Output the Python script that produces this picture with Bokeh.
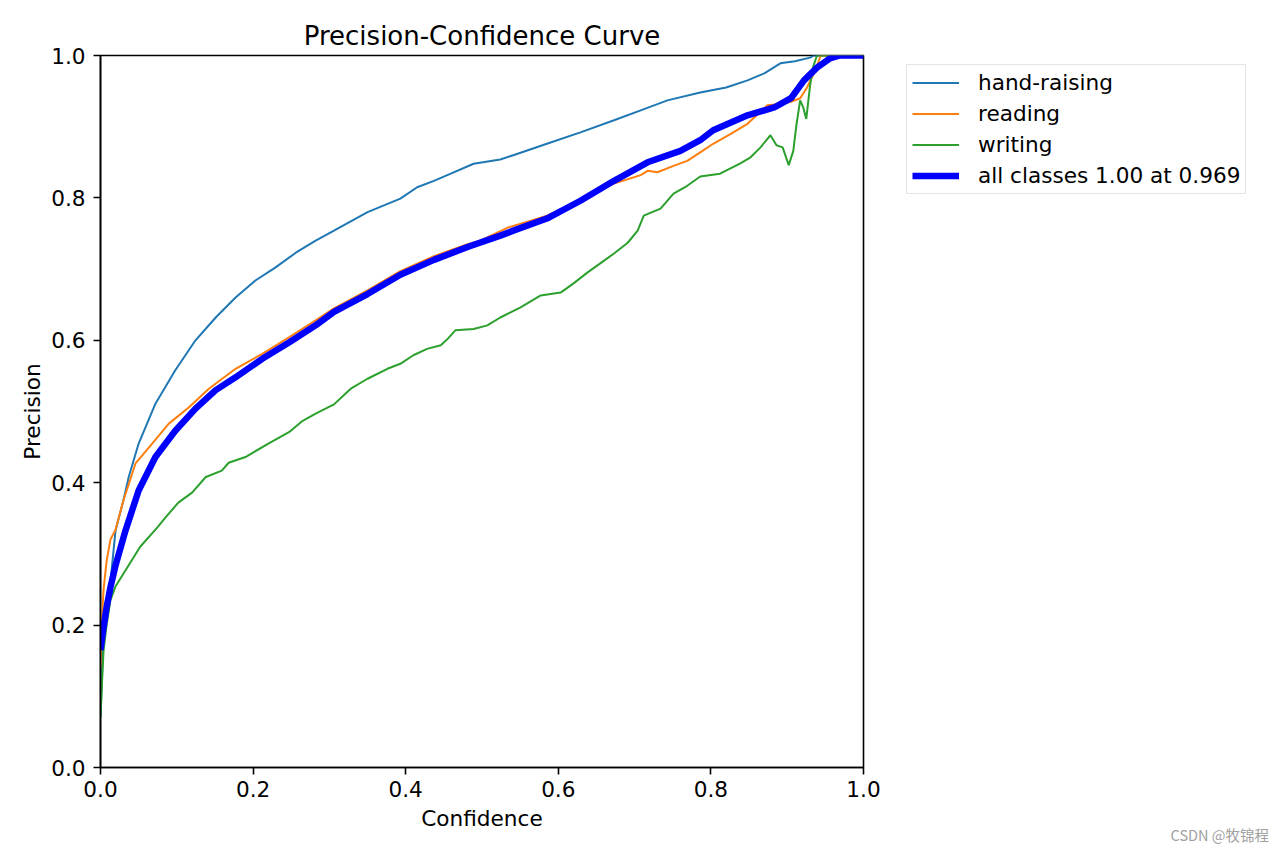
from bokeh.plotting import figure
from bokeh.models import Range1d, FixedTicker, PrintfTickFormatter, Legend, LegendItem, Div
from bokeh.layouts import column
from bokeh.embed import file_html
from bokeh.resources import INLINE

# ---- data ----
hand_x = [0, 0.003, 0.008, 0.013, 0.0197, 0.03, 0.037, 0.05, 0.072, 0.098, 0.1245, 0.151, 0.177,
          0.203, 0.229, 0.256, 0.282, 0.306, 0.35, 0.393, 0.415, 0.437, 0.459, 0.489, 0.524, 0.541,
          0.585, 0.629, 0.673, 0.708, 0.743, 0.786, 0.82, 0.848, 0.87, 0.891, 0.91, 0.93, 0.935, 1.0]
hand_y = [0.07, 0.16, 0.22, 0.26, 0.333, 0.375, 0.408, 0.455, 0.511, 0.558, 0.600, 0.632, 0.660,
          0.684, 0.702, 0.723, 0.740, 0.754, 0.780, 0.799, 0.815, 0.824, 0.834, 0.848, 0.854, 0.860,
          0.876, 0.892, 0.909, 0.923, 0.937, 0.948, 0.955, 0.965, 0.975, 0.989, 0.992, 0.997, 1.0, 1.0]

read_x = [0, 0.002, 0.004, 0.008, 0.013, 0.0197, 0.03, 0.0459, 0.0677, 0.0895, 0.116, 0.142, 0.177,
          0.212, 0.247, 0.282, 0.306, 0.35, 0.393, 0.437, 0.481, 0.498, 0.533, 0.564, 0.585, 0.620,
          0.646, 0.673, 0.708, 0.717, 0.730, 0.751, 0.769, 0.786, 0.803, 0.826, 0.848, 0.874, 0.891,
          0.905, 0.917, 0.926, 0.935, 0.944, 1.0]
read_y = [0.14, 0.21, 0.25, 0.29, 0.32, 0.334, 0.375, 0.427, 0.455, 0.483, 0.506, 0.532, 0.560,
          0.581, 0.604, 0.628, 0.645, 0.670, 0.697, 0.718, 0.735, 0.740, 0.758, 0.768, 0.775, 0.792,
          0.808, 0.820, 0.832, 0.838, 0.836, 0.845, 0.852, 0.864, 0.876, 0.890, 0.904, 0.930, 0.932,
          0.935, 0.940, 0.955, 0.975, 1.0, 1.0]

write_x = [0, 0.002, 0.004, 0.008, 0.013, 0.02, 0.03, 0.052, 0.0743, 0.085, 0.102, 0.120, 0.138,
           0.159, 0.168, 0.190, 0.220, 0.247, 0.265, 0.282, 0.306, 0.328, 0.35, 0.376, 0.393, 0.41,
           0.428, 0.446, 0.455, 0.465, 0.489, 0.507, 0.524, 0.55, 0.577, 0.603, 0.62, 0.638, 0.655,
           0.673, 0.691, 0.704, 0.712, 0.734, 0.751, 0.769, 0.786, 0.812, 0.838, 0.852, 0.865, 0.878,
           0.886, 0.894, 0.902, 0.908, 0.912, 0.917, 0.921, 0.925, 0.930, 0.934, 0.939, 1.0]
write_y = [0.07, 0.12, 0.164, 0.20, 0.235, 0.255, 0.272, 0.31, 0.337, 0.351, 0.372, 0.386, 0.408,
           0.417, 0.428, 0.436, 0.455, 0.471, 0.487, 0.497, 0.510, 0.532, 0.546, 0.560, 0.567, 0.579,
           0.588, 0.593, 0.602, 0.614, 0.616, 0.621, 0.632, 0.646, 0.663, 0.667, 0.680, 0.695, 0.708,
           0.722, 0.737, 0.754, 0.775, 0.785, 0.806, 0.817, 0.830, 0.834, 0.848, 0.857, 0.871, 0.888,
           0.874, 0.871, 0.846, 0.866, 0.902, 0.937, 0.927, 0.911, 0.958, 0.984, 1.0, 1.0]

all_x = [0, 0.003, 0.008, 0.013, 0.02, 0.0328, 0.05, 0.072, 0.098, 0.1245, 0.151, 0.177, 0.212,
         0.247, 0.282, 0.306, 0.35, 0.393, 0.437, 0.481, 0.524, 0.541, 0.585, 0.629, 0.673, 0.717,
         0.760, 0.786, 0.803, 0.848, 0.883, 0.905, 0.922, 0.939, 0.956, 0.969, 1.0]
all_y = [0.165, 0.19, 0.225, 0.253, 0.285, 0.333, 0.389, 0.436, 0.473, 0.504, 0.530, 0.548, 0.574,
         0.597, 0.621, 0.640, 0.665, 0.692, 0.713, 0.731, 0.747, 0.754, 0.771, 0.796, 0.824, 0.850,
         0.866, 0.881, 0.895, 0.916, 0.927, 0.940, 0.965, 0.983, 0.996, 1.0, 1.0]

series_names = ["hand-raising", "reading", "writing", "all classes 1.00 at 0.969"]
tick_values = [0.0, 0.2, 0.4, 0.6, 0.8, 1.0]
watermark_text = "CSDN @牧锦程"

FONT = "DejaVu Sans"
FS = "21.6px"

p = figure(
    width=1264, height=836,
    frame_width=763, frame_height=712,
    min_border_left=100, min_border_right=401, min_border_top=55, min_border_bottom=69,
    x_range=Range1d(0, 1), y_range=Range1d(0, 1),
    output_backend="svg", toolbar_location=None,
    title="Precision-Confidence Curve",
)
p.title.align = "center"
p.title.text_font = FONT
p.title.text_font_size = "26px"
p.title.text_font_style = "normal"
p.title.text_color = "black"
p.title.standoff = 9

p.xgrid.visible = False
p.ygrid.visible = False
p.outline_line_color = "black"
p.outline_line_width = 1.6
p.outline_line_alpha = 1.0
p.background_fill_color = "white"
p.border_fill_color = "white"

for ax in (p.xaxis[0], p.yaxis[0]):
    ax.ticker = FixedTicker(ticks=tick_values)
    ax.formatter = PrintfTickFormatter(format="%.1f")
    ax.major_label_text_font = FONT
    ax.major_label_text_font_size = FS
    ax.major_label_text_color = "black"
    ax.axis_label_text_font = FONT
    ax.axis_label_text_font_size = FS
    ax.axis_label_text_font_style = "normal"
    ax.axis_label_text_color = "black"
    ax.axis_line_color = "black"
    ax.axis_line_width = 1.6
    ax.major_tick_line_color = "black"
    ax.major_tick_line_width = 1.6
    ax.major_tick_out = 7
    ax.major_tick_in = 0
    ax.minor_tick_line_color = None

p.xaxis.axis_label = "Confidence"
p.yaxis.axis_label = "Precision"
p.xaxis.major_label_standoff = 6
p.xaxis.axis_label_standoff = 6
p.yaxis.major_label_standoff = 8
p.yaxis.axis_label_standoff = 3

r1 = p.line(hand_x, hand_y, line_color="#1f77b4", line_width=2)
r2 = p.line(read_x, read_y, line_color="#ff7f0e", line_width=2)
r3 = p.line(write_x, write_y, line_color="#2ca02c", line_width=2)
r4 = p.line(all_x, all_y, line_color="#0000ff", line_width=6.5)

legend = Legend(
    items=[LegendItem(label=n, renderers=[r]) for n, r in zip(series_names, [r1, r2, r3, r4])],
    location=(43, 573),
    margin=0,
    padding=5,
    spacing=6,
    glyph_width=47,
    glyph_height=21,
    label_height=21,
    label_standoff=19,
    label_text_font=FONT,
    label_text_font_size=FS,
    label_text_color="black",
    border_line_color="#cccccc",
    border_line_width=1.6,
    background_fill_color="white",
    background_fill_alpha=0.8,
)
p.add_layout(legend, "right")

wm = Div(
    text=f'<div style="position:relative;top:-12px;width:1264px;text-align:right;color:#a0a0a0;'
         f'font-family:\'Noto Sans CJK SC\';font-size:14.5px;line-height:10px;">{watermark_text}</div>',
    width=1266, height=14,
)

open("out.html", "w").write(file_html(column(p, wm), INLINE))
